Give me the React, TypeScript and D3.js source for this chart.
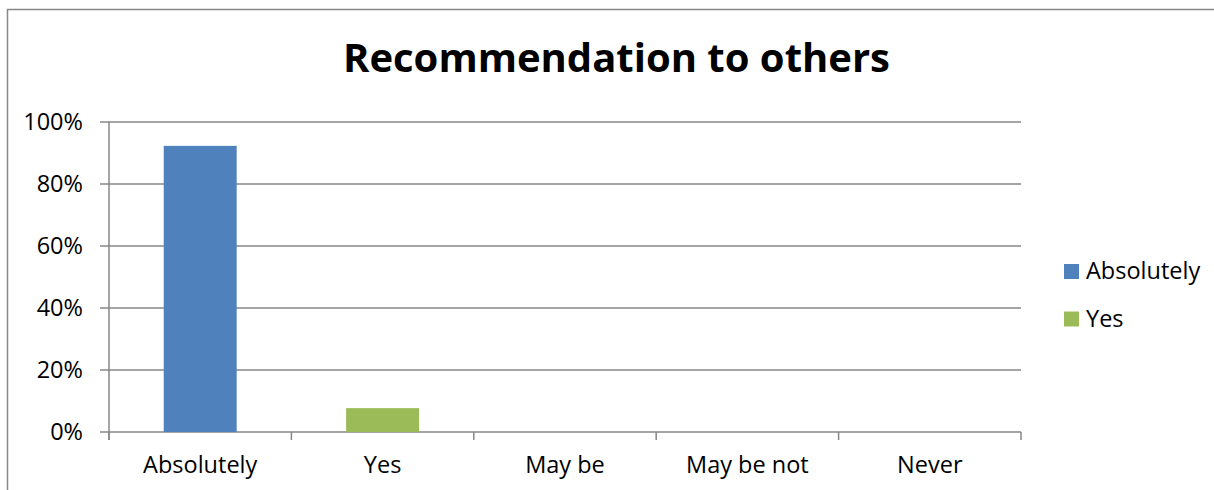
import React from "react";
import * as d3 from "d3";

const categories = ["Absolutely", "Yes", "May be", "May be not", "Never"];
const values = [92.3, 7.7, 0, 0, 0];
const barColors = ["#4F81BD", "#9BBB59", "#C0504D", "#8064A2", "#4BACC6"];
const legendItems = ["Absolutely", "Yes"];
const yTicks = [0, 20, 40, 60, 80, 100];
const title = "Recommendation to others";

const W = 1214;
const H = 490;
const FONT = "'Open Sans', Lato, sans-serif";
const GRID = "#878787";

export default function App() {
  const left = 109;
  const right = 1021;
  const top = 122;
  const bottom = 432;

  const x = d3
    .scaleBand<string>()
    .domain(categories)
    .range([left, right])
    .paddingInner(0.6)
    .paddingOuter(0.3);
  const y = d3.scaleLinear().domain([0, 100]).range([bottom, top]);
  const step = x.step();
  const boundaries = d3.range(categories.length + 1).map((i) => left + i * step);

  return (
    <div style={{ position: "absolute", left: 0, top: 0 }}>
      <svg width={W} height={H} style={{ display: "block" }}>
        <rect x={0} y={0} width={W} height={H} fill="#fff" />
        <rect x={7.5} y={9.5} width={W + 20} height={H + 20} fill="none" stroke={GRID} strokeWidth={1.5} />
        <text
          x={(345 + 888) / 2}
          y={72}
          textAnchor="middle"
          fontFamily={FONT}
          fontWeight={700}
          fontSize={40}
          fill="#000"
        >
          {title}
        </text>
        {yTicks.map((t) => (
          <g key={t}>
            <line x1={100} x2={right} y1={y(t)} y2={y(t)} stroke={GRID} strokeWidth={1.5} />
            <text
              x={83}
              y={y(t) + 8}
              textAnchor="end"
              fontFamily={FONT}
              fontSize={23.5}
              fill="#000"
            >
              {t}%
            </text>
          </g>
        ))}
        <line x1={left} x2={left} y1={top} y2={bottom + 8} stroke={GRID} strokeWidth={1.5} />
        {boundaries.map((bx, i) => (
          <line key={i} x1={bx} x2={bx} y1={bottom} y2={bottom + 8} stroke={GRID} strokeWidth={1.5} />
        ))}
        {categories.map((c, i) => (
          <rect
            key={c}
            x={x(c)}
            y={y(values[i])}
            width={x.bandwidth()}
            height={bottom - y(values[i])}
            fill={barColors[i]}
          />
        ))}
        {categories.map((c) => (
          <text
            key={c}
            x={(x(c) as number) + x.bandwidth() / 2}
            y={473}
            textAnchor="middle"
            fontFamily={FONT}
            fontSize={23.5}
            fill="#000"
          >
            {c}
          </text>
        ))}
        {legendItems.map((l, i) => (
          <g key={l} transform={`translate(1064, ${264 + i * 47.5})`}>
            <rect x={0} y={0} width={15} height={15} fill={barColors[i]} />
            <text x={22} y={15} fontFamily={FONT} fontSize={23.5} fill="#000">
              {l}
            </text>
          </g>
        ))}
      </svg>
    </div>
  );
}
